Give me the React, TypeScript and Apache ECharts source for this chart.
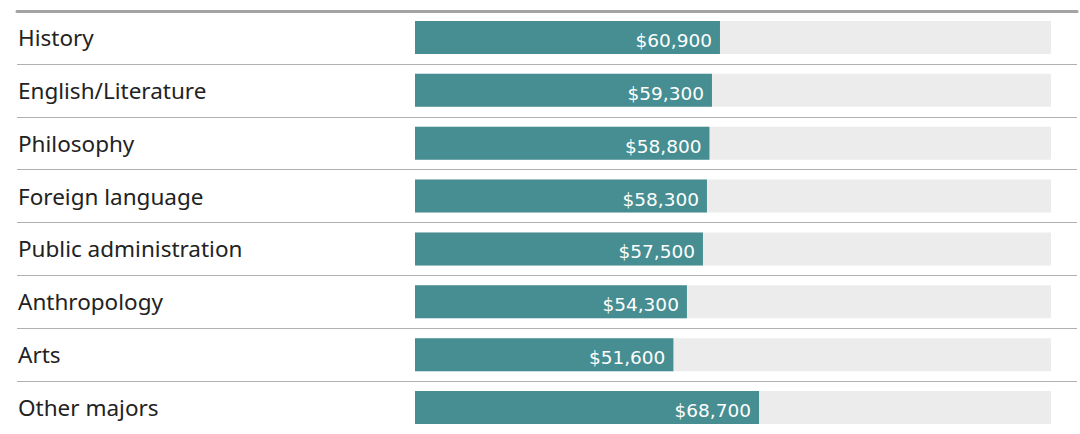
import React, { useEffect, useRef } from "react";
import * as echarts from "echarts";

const categories = [
  "History",
  "English/Literature",
  "Philosophy",
  "Foreign language",
  "Public administration",
  "Anthropology",
  "Arts",
  "Other majors",
];
const salaries = [60900, 59300, 58800, 58300, 57500, 54300, 51600, 68700];
const scaleMax = 127000;

export default function App() {
  const ref = useRef<HTMLDivElement>(null);
  useEffect(() => {
    document.body.style.margin = "0";
    const chart = echarts.init(ref.current!, null, { renderer: "svg" });
    chart.setOption({
      animation: false,
      grid: [
        { left: 415, right: 29, top: 11, height: 424 },
        { left: 17, right: 3, top: 11, height: 424 },
      ],
      xAxis: [
        { gridIndex: 0, type: "value", min: 0, max: scaleMax, show: false },
        {
          gridIndex: 1,
          type: "value",
          min: 0,
          max: 1,
          position: "top",
          axisLine: { show: true, lineStyle: { color: "#a3a3a3", width: 3 } },
          axisTick: { show: false },
          axisLabel: { show: false },
          splitLine: { show: false },
        },
      ],
      yAxis: [
        {
          gridIndex: 0,
          type: "category",
          data: categories,
          inverse: true,
          show: false,
        },
        {
          gridIndex: 1,
          type: "category",
          data: categories,
          inverse: true,
          axisLine: { show: false },
          axisTick: { show: false },
          splitLine: { show: true, lineStyle: { color: "#b0b0b0", width: 1 } },
          axisLabel: {
            inside: true,
            margin: 1,
            color: "#222",
            fontSize: 22.5,
            fontFamily: "Noto Sans",
            padding: [8, 0, 0, 0],
          },
        },
      ],
      series: [
        {
          type: "bar",
          xAxisIndex: 0,
          yAxisIndex: 0,
          data: salaries,
          barWidth: 33,
          itemStyle: { color: "#468e92" },
          showBackground: true,
          backgroundStyle: { color: "#ececec" },
          label: {
            show: true,
            position: "insideRight",
            distance: 8,
            offset: [0, 3],
            color: "#fff",
            fontSize: 18.5,
            fontFamily: "DejaVu Sans",
            formatter: (p: any) => "$" + Number(p.value).toLocaleString("en-US"),
          },
        },
      ],
    });
    return () => chart.dispose();
  }, []);
  return <div ref={ref} style={{ width: 1080, height: 434 }} />;
}
